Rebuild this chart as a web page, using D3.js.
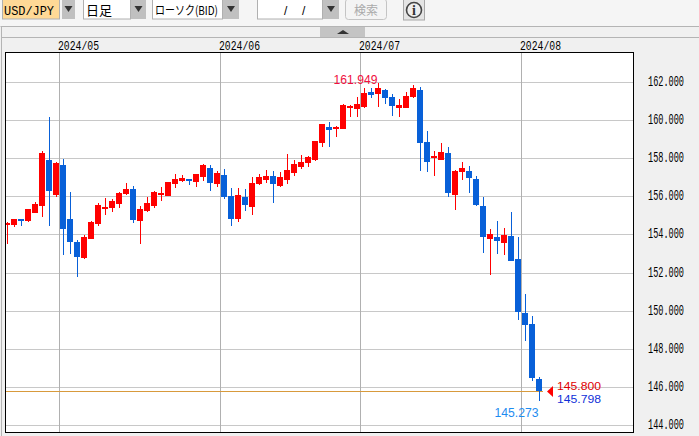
<!DOCTYPE html>
<html><head><meta charset="utf-8">
<script src="https://cdn.jsdelivr.net/npm/d3@7"></script>
<style>html,body{margin:0;padding:0;background:#f0f0f0;overflow:hidden}svg{display:block}</style>
</head><body><svg id="c" width="699" height="436"></svg>
<script>
const dates=["04-19","04-22","04-23","04-24","04-25","04-26","04-29","04-30","05-01","05-02","05-03","05-06","05-07","05-08","05-09","05-10","05-13","05-14","05-15","05-16","05-17","05-20","05-21","05-22","05-23","05-24","05-27","05-28","05-29","05-30","05-31","06-03","06-04","06-05","06-06","06-07","06-10","06-11","06-12","06-13","06-14","06-17","06-18","06-19","06-20","06-21","06-24","06-25","06-26","06-27","06-28","07-01","07-02","07-03","07-04","07-05","07-08","07-09","07-10","07-11","07-12","07-15","07-16","07-17","07-18","07-19","07-22","07-23","07-24","07-25","07-26","07-29","07-30","07-31","08-01","08-02","08-05"];
const opens=[154.53,154.51,154.83,154.72,155.14,155.51,157.92,156.09,157.66,154.83,153.62,152.78,153.78,154.56,155.35,155.40,155.61,156.14,156.40,154.72,155.25,155.51,156.09,156.03,156.66,156.82,156.92,156.77,157.03,157.50,156.66,157.14,156.03,154.83,155.98,155.46,156.66,156.87,157.08,156.56,156.87,157.24,157.56,157.77,157.92,158.81,159.65,159.55,159.55,160.65,160.60,160.70,161.49,161.39,161.60,161.23,160.65,160.65,161.23,161.60,158.87,158.03,157.92,158.29,156.09,157.29,157.35,156.92,155.51,153.78,153.88,153.57,153.94,152.73,149.90,149.32,146.43];
const highs=[154.67,154.83,154.83,155.35,155.72,158.39,160.18,157.82,157.97,156.24,153.72,153.99,154.72,155.67,155.93,155.88,156.24,156.71,156.56,155.51,155.98,156.30,156.51,156.77,157.19,157.14,156.92,157.19,157.71,157.66,157.35,157.45,156.45,156.45,156.40,157.03,157.19,157.40,157.35,157.29,158.24,157.92,158.19,158.13,158.92,159.81,159.92,159.71,160.86,160.81,161.23,161.70,161.70,161.949,161.65,161.39,161.12,161.49,161.86,161.75,159.44,158.40,158.82,158.60,157.40,157.82,157.61,157.08,155.98,154.30,154.72,154.35,155.19,153.88,150.89,149.74,146.54];
const lows=[153.51,154.41,154.46,154.67,155.14,154.93,154.46,155.98,152.94,152.99,151.78,152.73,153.78,154.46,155.04,155.19,155.40,156.09,154.62,153.51,155.19,155.40,155.77,156.03,156.45,156.77,156.61,156.51,156.82,156.30,156.51,155.88,154.46,154.67,155.25,155.04,156.61,156.72,155.67,156.51,156.66,157.08,157.45,157.56,157.87,158.60,158.60,159.13,159.55,160.18,160.18,160.65,161.18,160.70,160.86,160.23,160.18,160.65,161.18,157.35,157.29,157.08,157.92,155.98,155.30,156.87,156.19,155.51,153.04,151.89,152.99,152.94,152.62,149.53,148.43,146.33,145.273];
const closes=[154.63,154.83,154.72,155.35,155.61,158.29,156.30,157.76,154.30,153.62,152.83,153.88,154.67,155.56,155.46,155.77,156.19,156.40,154.77,155.35,155.67,156.24,156.19,156.77,156.92,156.98,156.82,157.19,157.66,156.72,157.24,155.98,154.83,156.09,155.56,156.72,157.03,157.08,156.66,157.03,157.40,157.71,157.82,158.08,158.92,159.81,159.50,159.67,160.81,160.76,160.86,161.44,161.33,161.70,161.18,160.76,160.81,161.28,161.70,158.81,157.82,158.13,158.34,156.19,157.35,157.50,156.98,155.56,153.88,154.04,153.67,153.99,152.62,149.97,149.27,146.49,145.798];
const yTicks=[144,146,148,150,152,154,156,158,160,162];
const monthYear="2024";
const askPrice=145.800, bidPrice=145.798;
const symbolText="USD/JPY", periodText="日足", typeText="ローソク(BID)", dateSep="/", searchText="検索";

const svg=d3.select("#c");
const RED="#ff0000",BLUE="#0860d8";
const x=d3.scaleBand().domain(dates).range([3.5,542.5]);
const y=d3.scaleLinear().domain([144,162]).range([425.5,82.5]);
const L=5.5,R=633.5,T=52.5,B=432.5;
const mono="'Liberation Mono','DejaVu Sans Mono',monospace", sans="'Liberation Sans',Arial,sans-serif", cjk="'Noto Sans CJK JP','Liberation Sans',sans-serif";

// chrome
svg.append("rect").attr("width",699).attr("height",26).attr("fill","#f5f5f5");
svg.append("rect").attr("y",27).attr("width",699).attr("height",10).attr("fill","#f0f0f0");
[[0.5,26.5,699,26.5],[1.5,37.5,699,37.5],[1.5,26.5,1.5,436]].forEach(d=>svg.append("line").attr("x1",d[0]).attr("y1",d[1]).attr("x2",d[2]).attr("y2",d[3]).attr("stroke","#b4b4b4"));
svg.append("rect").attr("x",320).attr("y",27).attr("width",45).attr("height",10).attr("fill","#c4c4c4");
svg.append("path").attr("d","M337,34L343,30L349,34Z").attr("fill","#333");

function dropdown(bx,bw,gx,gw,fill){
  svg.append("rect").attr("x",bx+.5).attr("y",-1).attr("width",bw).attr("height",20).attr("fill",fill).attr("stroke","#b0b0b0");
  svg.append("rect").attr("x",gx).attr("y",0).attr("width",gw).attr("height",19).attr("fill","#c0c0c0");
  const c=gx+gw/2;
  svg.append("path").attr("d",`M${c-4},6L${c+4},6L${c},12Z`).attr("fill","#333");
}
dropdown(2,57,62,13,"#ffd996");
dropdown(83,47,131,15,"#fff");
dropdown(152,70,223,16,"#fff");
dropdown(257,65,323,16,"#fff");
function hdr(t,xx,fam,size,fill,anchor){return svg.append("text").attr("x",xx).attr("y",15).attr("font-family",fam).attr("font-size",size).attr("fill",fill||"#000").attr("text-anchor",anchor||"start").text(t);}
hdr(symbolText,4,mono,13).attr("textLength",50).attr("lengthAdjust","spacingAndGlyphs");
hdr(periodText,86,cjk,13);
hdr(typeText,155,cjk,12).attr("textLength",63).attr("lengthAdjust","spacingAndGlyphs");
hdr(dateSep,284,sans,12);
hdr(dateSep,302,sans,12);
svg.append("rect").attr("x",345.5).attr("y",-1).attr("width",41).attr("height",20.5).attr("rx",3).attr("fill","#f4f4f4").attr("stroke","#c4c4c4");
hdr(searchText,366,cjk,12,"#aaa","middle");
svg.append("rect").attr("x",403.5).attr("y",-1).attr("width",21).attr("height",21).attr("fill","#e4e4e4").attr("stroke","#a8a8a8");
svg.append("circle").attr("cx",414).attr("cy",10).attr("r",7.5).attr("fill","#eee").attr("stroke","#444").attr("stroke-width",1.6);
svg.append("text").attr("x",414).attr("y",15).attr("text-anchor","middle").attr("font-family","'Liberation Serif',serif").attr("font-weight","bold").attr("font-size",14).attr("fill","#333").text("i");

// plot area
svg.append("defs").append("clipPath").attr("id","pc").append("rect").attr("x",L).attr("y",T).attr("width",R-L).attr("height",B-T);
svg.append("rect").attr("x",L).attr("y",T).attr("width",R-L).attr("height",B-T).attr("fill","#fff");
const g=svg.append("g").attr("clip-path","url(#pc)").attr("shape-rendering","crispEdges");

g.selectAll(".gl").data(yTicks).join("line").attr("x1",L).attr("x2",R).attr("y1",d=>y(d)).attr("y2",d=>y(d)).attr("stroke","#c8c8c8");
const firsts=dates.filter((d,i)=>i>0&&d.slice(0,2)!==dates[i-1].slice(0,2));
g.selectAll(".vl").data(firsts).join("line").attr("x1",d=>x(d)).attr("x2",d=>x(d)).attr("y1",T).attr("y2",B).attr("stroke","#b0b0b0");
// current price line
const py=Math.floor(y(askPrice))+.5;
g.append("line").attr("x1",L).attr("x2",x(dates[76])+x.bandwidth()).attr("y1",py).attr("y2",py).attr("stroke","#d89a3c");

const col=i=>closes[i]>=opens[i]?RED:BLUE;
const idx=dates.map((d,i)=>i);
g.selectAll(".w").data(idx).join("rect")
 .attr("x",i=>x(dates[i])+3.5).attr("width",1)
 .attr("y",i=>Math.round(y(highs[i]))).attr("height",i=>Math.max(1,Math.round(y(lows[i]))-Math.round(y(highs[i]))))
 .attr("fill",col);
g.selectAll(".b").data(idx).join("rect")
 .attr("x",i=>x(dates[i])+.5).attr("width",6)
 .attr("y",i=>Math.round(y(Math.max(opens[i],closes[i])))).attr("height",i=>Math.max(2,Math.round(y(Math.min(opens[i],closes[i])))-Math.round(y(Math.max(opens[i],closes[i])))))
 .attr("fill",col);

svg.append("rect").attr("x",L).attr("y",T).attr("width",R-L).attr("height",B-T).attr("fill","none").attr("stroke","#000").attr("shape-rendering","crispEdges");

// axes text
svg.selectAll(".yl").data(yTicks).join("text").attr("transform",d=>`translate(648,${y(d)+3.5}) scale(0.612,1)`)
 .attr("font-family",mono).attr("font-size",14).attr("fill","#000")
 .text(d=>d3.format(".3f")(d));
svg.selectAll(".ml").data(firsts).join("text").attr("x",d=>x(d)-1.5).attr("y",50)
 .attr("font-family",mono).attr("font-size",13).attr("fill","#000").attr("textLength",41).attr("lengthAdjust","spacingAndGlyphs")
 .text(d=>monthYear+"/"+d.slice(0,2));

// price annotations
const hiMax=d3.max(highs),loMin=d3.min(lows),hiI=highs.indexOf(hiMax),loI=lows.indexOf(loMin);
function note(t,xx,yy,fill,size){svg.append("text").attr("x",xx).attr("y",yy).attr("font-family",sans).attr("font-size",size||12).attr("fill",fill).attr("textLength",44).attr("lengthAdjust","spacingAndGlyphs").text(d3.format(".3f")(t));}
note(hiMax,x(dates[hiI])-41,84,"#f01040");
note(loMin,x(dates[loI])-41,417,"#1e8cf0");
note(askPrice,557,389.5,"#e00000",11.2);
note(bidPrice,557,402.5,"#1030d8",11.2);
svg.append("path").attr("d",`M547,${py}L553,${py-5.5}L553,${py+5.5}Z`).attr("fill",RED);
</script></body></html>
